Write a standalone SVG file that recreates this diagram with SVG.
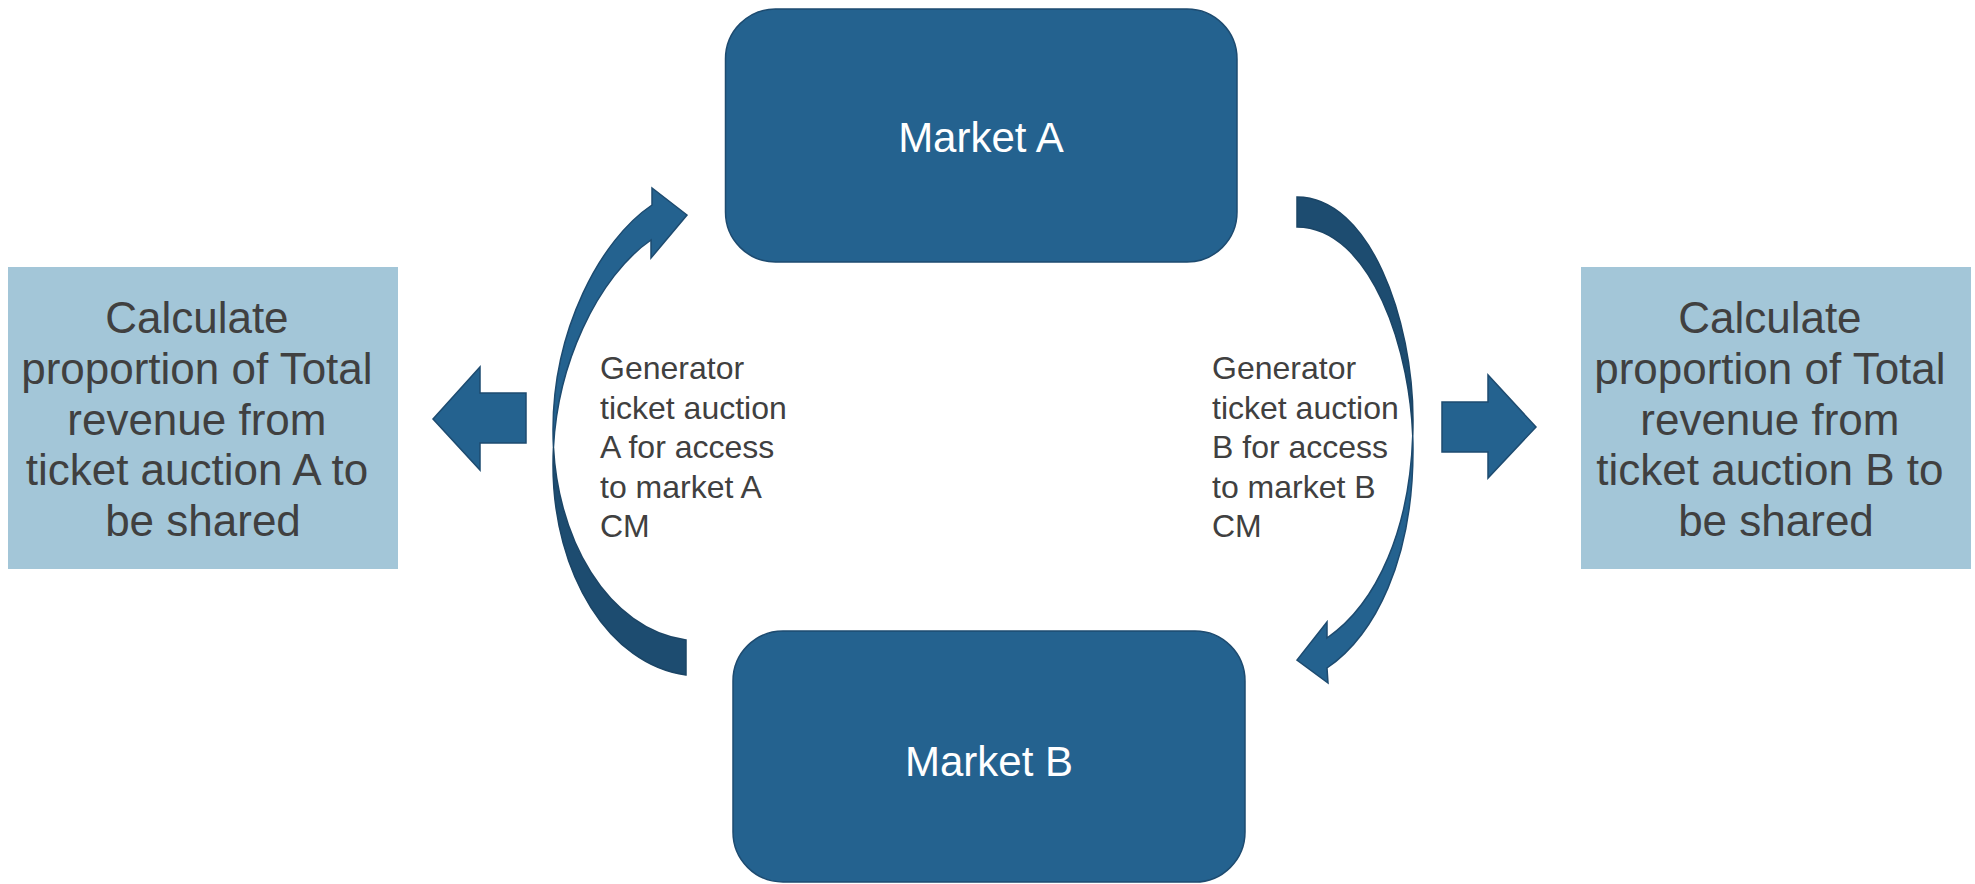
<svg xmlns="http://www.w3.org/2000/svg" width="1975" height="884" viewBox="0 0 1975 884">
  <style>
    .market { fill: #24628f; stroke: #1d4b70; stroke-width: 1.5; }
    .calc { fill: #a3c6d8; }
    .market-label { font-family: "Liberation Sans", Arial, sans-serif; font-size: 42px; fill: #ffffff; text-anchor: middle; }
    .calc-label { font-family: "Liberation Sans", Arial, sans-serif; font-size: 44px; fill: #404040; text-anchor: middle; }
    .flow-label { font-family: "Liberation Sans", Arial, sans-serif; font-size: 32px; fill: #404040; }
    .arrow { fill: #24628f; stroke: #1d4b70; stroke-width: 1.5; stroke-linejoin: miter; }
    .arrow-back { fill: #1d4c70; stroke: #1b4566; stroke-width: 1.5; }
  </style>
  <defs>
    <clipPath id="clip-left-back"><rect x="0" y="447" width="1975" height="437"/></clipPath>
    <clipPath id="clip-left-front"><rect x="0" y="0" width="1975" height="447"/></clipPath>
    <clipPath id="clip-right-back"><rect x="0" y="0" width="1975" height="435"/></clipPath>
    <clipPath id="clip-right-front"><rect x="0" y="435" width="1975" height="449"/></clipPath>
    <path id="curve-left" d="M 652,205 C 600,240 553,330 553,430 C 553,540 610,630 686,640 L 686,675 C 610,665 553,575 553,465 C 553,365 600,275 651,240 L 651,258 L 687,215 L 652,188 Z"/>
    <path id="curve-right" d="M 1297,197 C 1370,197 1413,320 1413,420 C 1413,530 1375,605 1327,638 L 1327,622 L 1297,660 L 1328,683 L 1327,668 C 1375,635 1413,560 1413,450 C 1413,350 1370,227 1297,227 Z"/>
  </defs>

  <!-- connectors: curved auction arrows and straight share arrows -->
  <g id="connectors">
    <g id="curve-a">
      <use href="#curve-left" class="arrow" clip-path="url(#clip-left-front)"/>
      <use href="#curve-left" class="arrow-back" clip-path="url(#clip-left-back)"/>
    </g>
    <g id="curve-b">
      <use href="#curve-right" class="arrow-back" clip-path="url(#clip-right-back)"/>
      <use href="#curve-right" class="arrow" clip-path="url(#clip-right-front)"/>
    </g>
    <polygon id="share-a" class="arrow" points="526,393 480,393 480,367 433,419 480,470 480,443 526,443"/>
    <polygon id="share-b" class="arrow" points="1442,402 1488,402 1488,375 1536,427 1488,478 1488,452 1442,452"/>
  </g>

  <g id="market-a">
    <rect class="market" x="725.5" y="9" width="511.5" height="253" rx="50" ry="50"/>
    <text class="market-label" x="981" y="152">Market A</text>
  </g>

  <g id="market-b">
    <rect class="market" x="733" y="631" width="512" height="251" rx="50" ry="50"/>
    <text class="market-label" x="989" y="776">Market B</text>
  </g>

  <g id="calc-a">
    <rect class="calc" x="8" y="267" width="390" height="302"/>
    <text class="calc-label">
      <tspan x="203" y="333">Calculate</tspan>
      <tspan x="203" y="384">proportion of Total</tspan>
      <tspan x="203" y="434.5">revenue from</tspan>
      <tspan x="203" y="485">ticket auction A to</tspan>
      <tspan x="203" y="535.5">be shared</tspan>
    </text>
  </g>

  <g id="calc-b">
    <rect class="calc" x="1581" y="267" width="390" height="302"/>
    <text class="calc-label">
      <tspan x="1776" y="333">Calculate</tspan>
      <tspan x="1776" y="384">proportion of Total</tspan>
      <tspan x="1776" y="434.5">revenue from</tspan>
      <tspan x="1776" y="485">ticket auction B to</tspan>
      <tspan x="1776" y="535.5">be shared</tspan>
    </text>
  </g>

  <g id="label-a">
    <text class="flow-label">
      <tspan x="600" y="379">Generator</tspan>
      <tspan x="600" y="418.5">ticket auction</tspan>
      <tspan x="600" y="458">A for access</tspan>
      <tspan x="600" y="497.5">to market A</tspan>
      <tspan x="600" y="537">CM</tspan>
    </text>
  </g>

  <g id="label-b">
    <text class="flow-label">
      <tspan x="1212" y="379">Generator</tspan>
      <tspan x="1212" y="418.5">ticket auction</tspan>
      <tspan x="1212" y="458">B for access</tspan>
      <tspan x="1212" y="497.5">to market B</tspan>
      <tspan x="1212" y="537">CM</tspan>
    </text>
  </g>
</svg>
